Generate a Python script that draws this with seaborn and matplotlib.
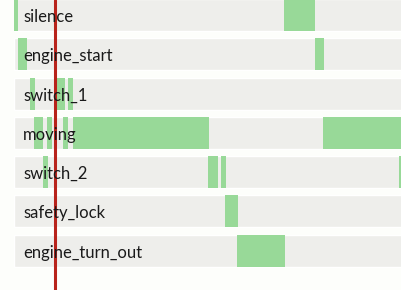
import matplotlib
matplotlib.use("Agg")
import matplotlib.pyplot as plt
import seaborn as sns
import pandas as pd

# states shown as rows, top to bottom
states = ["silence", "engine_start", "switch_1", "moving", "switch_2", "safety_lock", "engine_turn_out"]

# active intervals per state (start, end) in seconds
silence = [(0.0, 0.4), (27.0, 30.1)]
engine_start = [(0.4, 1.3), (30.1, 31.0)]
switch_1 = [(1.6, 2.1), (4.2, 5.1), (5.4, 5.9)]
moving = [(2.0, 2.9), (3.3, 3.8), (4.9, 5.4), (5.9, 19.5), (30.9, 38.7)]
switch_2 = [(2.9, 3.4), (19.4, 20.4), (20.7, 21.2), (38.5, 38.7)]
safety_lock = [(21.1, 22.4)]
engine_turn_out = [(22.3, 27.1)]

intervals = [silence, engine_start, switch_1, moving, switch_2, safety_lock, engine_turn_out]
total_time = 40.0
cursor_time = 4.1

sns.set_style("white")
plt.rcParams["font.family"] = ["Lato", "DejaVu Sans"]

fig = plt.figure(figsize=(4.01, 2.90), dpi=100, facecolor="#fdfefb")
ax = fig.add_axes([0, 0, 1, 1])
ax.set_facecolor("#fdfefb")

bg = pd.DataFrame({"state": states, "length": [total_time] * len(states)})
sns.barplot(data=bg, x="length", y="state", orient="h", color="#eeeeeb",
            width=0.814, saturation=1, ax=ax)

for i, segs in enumerate(intervals):
    for start, end in segs:
        ax.barh(i, end - start, left=start, height=0.814, color="#98d998", linewidth=0)

for i, name in enumerate(states):
    ax.text(0.9, i + 0.05, name, va="center", ha="left", fontsize=12, color="#1a1a1a")

ax.axvline(cursor_time, color="#b8231b", lw=2.2)

ax.set_xlim(-1.4, 38.7)
ax.set_ylim(7.0, -0.38)
ax.set_axis_off()

fig.savefig("out.png", dpi=100, facecolor=fig.get_facecolor())
